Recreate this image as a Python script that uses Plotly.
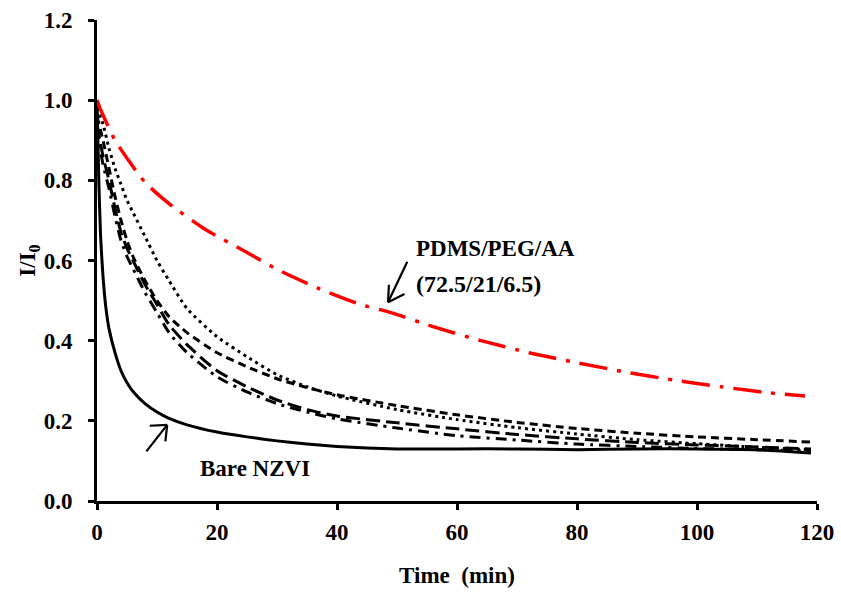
import plotly.graph_objects as go

# Time (min)
t_bare = [0, 0.3, 0.6, 1, 1.5, 2, 3, 4, 5, 6, 8, 10, 12, 15, 20, 25, 30, 35, 40, 45, 50, 60, 70, 80, 90, 100, 110, 119]
bare = [1.0, 0.80, 0.66, 0.56, 0.48, 0.43, 0.37, 0.325, 0.295, 0.273, 0.243, 0.222, 0.206, 0.19, 0.172, 0.16, 0.15, 0.142, 0.136, 0.132, 0.13, 0.13, 0.13, 0.128, 0.13, 0.13, 0.128, 0.12]

t_c = [0, 1, 2, 3, 4, 5, 6, 8, 10, 12, 15, 20, 25, 30, 35, 40, 50, 60, 70, 80, 90, 100, 110, 119]
dotted = [0.98, 0.94, 0.88, 0.83, 0.79, 0.75, 0.72, 0.66, 0.60, 0.55, 0.48, 0.41, 0.36, 0.315, 0.285, 0.262, 0.228, 0.203, 0.183, 0.167, 0.153, 0.143, 0.134, 0.128]
dash_s = [0.96, 0.90, 0.83, 0.76, 0.70, 0.65, 0.61, 0.55, 0.50, 0.46, 0.42, 0.37, 0.335, 0.305, 0.283, 0.265, 0.238, 0.215, 0.196, 0.181, 0.169, 0.16, 0.153, 0.147]
dash_l = [0.94, 0.86, 0.80, 0.73, 0.67, 0.63, 0.60, 0.54, 0.49, 0.44, 0.39, 0.325, 0.285, 0.252, 0.228, 0.212, 0.195, 0.18, 0.166, 0.155, 0.146, 0.14, 0.135, 0.13]
dashdot = [0.93, 0.84, 0.78, 0.71, 0.65, 0.61, 0.58, 0.52, 0.47, 0.42, 0.37, 0.31, 0.272, 0.243, 0.222, 0.205, 0.182, 0.163, 0.152, 0.142, 0.136, 0.131, 0.128, 0.125]

t_red = [0, 0.5, 3, 8, 12, 18, 25, 30, 37, 44, 49, 56, 64, 72, 80, 88, 96, 104, 112, 118]
red = [1.0, 0.98, 0.90, 0.795, 0.742, 0.678, 0.62, 0.578, 0.53, 0.49, 0.47, 0.435, 0.40, 0.37, 0.345, 0.322, 0.302, 0.285, 0.27, 0.262]

x_ticks = [0, 20, 40, 60, 80, 100, 120]
y_ticks = [0.0, 0.2, 0.4, 0.6, 0.8, 1.0, 1.2]
y_tick_text = ["0.0", "0.2", "0.4", "0.6", "0.8", "1.0", "1.2"]

FONT = "Liberation Serif"
FS = 23

fig = go.Figure()

def add(x, y, color, width, dash):
    fig.add_trace(go.Scatter(x=x, y=y, mode="lines",
                             line=dict(color=color, width=width, dash=dash, shape="spline", smoothing=0.6),
                             showlegend=False, hoverinfo="skip"))

add(t_c, dashdot, "black", 3, "11px,6px,3px,6px")
add(t_c, dash_l, "black", 3, "14px,6px")
add(t_c, dash_s, "black", 3, "8px,5px")
add(t_c, dotted, "black", 3, "3px,4px")
add(t_bare, bare, "black", 3, "solid")
add(t_red, red, "#ff0000", 3.5, "28px,10px,4px,10px")

axis_common = dict(showgrid=False, zeroline=False, showline=True, linecolor="black", linewidth=3,
                   ticks="outside", ticklen=6, tickwidth=3, tickcolor="black", automargin=False,
                   tickfont=dict(family=FONT, size=FS, color="black", weight="bold"))

fig.update_layout(
    width=841, height=595,
    margin=dict(l=97, r=24, t=20, b=94),
    plot_bgcolor="white", paper_bgcolor="white",
    font=dict(family=FONT, size=FS, color="black"),
    xaxis=dict(range=[0, 120], tickvals=x_ticks, ticklabelstandoff=2,
               title=dict(text="<b>Time  (min)</b>", font=dict(family=FONT, size=FS), standoff=24),
               **axis_common),
    yaxis=dict(range=[0, 1.2], tickvals=y_ticks, ticktext=y_tick_text, ticklabelstandoff=11,
               title=dict(text="<b>I/I<sub>0</sub></b>", font=dict(family=FONT, size=FS), standoff=2),
               **axis_common),
)

fig.add_annotation(x=52.8, y=0.631, xref="x", yref="y", text="<b>PDMS/PEG/AA</b>",
                   showarrow=False, xanchor="left", yanchor="middle",
                   font=dict(family=FONT, size=FS, color="black"))
fig.add_annotation(x=52.8, y=0.541, xref="x", yref="y", text="<b>(72.5/21/6.5)</b>",
                   showarrow=False, xanchor="left", yanchor="middle",
                   font=dict(family=FONT, size=FS + 1, color="black"))
fig.add_annotation(x=26.3, y=0.082, xref="x", yref="y", text="<b>Bare NZVI</b>",
                   showarrow=False, xanchor="center", yanchor="middle",
                   font=dict(family=FONT, size=FS, color="black"))

# arrows: shaft + two wings, tip in data coords, tails as pixel offsets
def arrow(x, y, offsets):
    for ax, ay in offsets:
        fig.add_annotation(x=x, y=y, ax=ax, ay=ay, xref="x", yref="y", text="",
                           showarrow=True, arrowhead=0, arrowwidth=2.2, arrowcolor="black",
                           standoff=0, startstandoff=0)

arrow(48.5, 0.496, [(20, -42), (1, -19), (18, -9)])
arrow(11.7, 0.19, [(-22, 28), (-19, 1), (-2, 18)])

fig.write_html("out.html")
